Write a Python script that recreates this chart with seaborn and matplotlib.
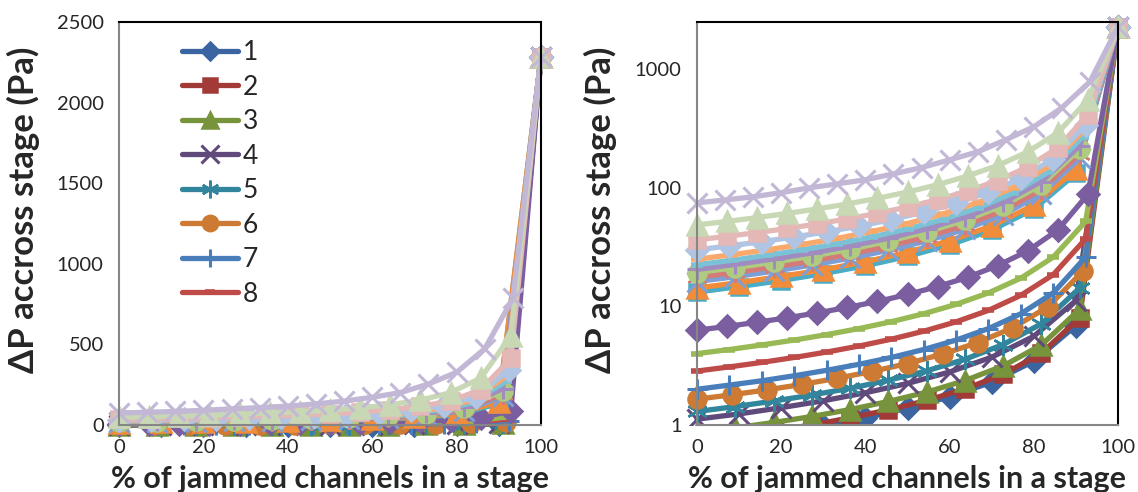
import numpy as np
import pandas as pd
import matplotlib
matplotlib.use('Agg')
import matplotlib.pyplot as plt
import seaborn as sns
from matplotlib.patches import Rectangle
from matplotlib.ticker import MultipleLocator, LogLocator, NullFormatter, FixedLocator

# pressure drop across a stage (Pa) vs % of jammed channels, one list per series
# last value of every series is the fully jammed point at 100 %
dp01 = [0.69, 0.767, 0.863, 0.986, 1.15, 1.38, 1.73, 2.3, 3.45, 6.9, 2280]
dp02 = [0.73, 0.803, 0.892, 1.0, 1.15, 1.34, 1.61, 2.01, 2.68, 4.02, 8.03, 2280]
dp03 = [0.86, 0.946, 1.05, 1.18, 1.35, 1.58, 1.89, 2.37, 3.15, 4.73, 9.46, 2280]
dp04 = [1.12, 1.24, 1.4, 1.6, 1.87, 2.24, 2.8, 3.73, 5.6, 11.2, 2280]
dp05 = [1.3, 1.43, 1.59, 1.79, 2.04, 2.38, 2.86, 3.58, 4.77, 7.15, 14.3, 2280]
dp06 = [1.65, 1.8, 1.98, 2.2, 2.48, 2.83, 3.3, 3.96, 4.95, 6.6, 9.9, 19.8, 2280]
dp07 = [2.0, 2.17, 2.36, 2.6, 2.89, 3.25, 3.71, 4.33, 5.2, 6.5, 8.67, 13.0, 26.0, 2280]
dp08 = [2.85, 3.09, 3.37, 3.71, 4.12, 4.63, 5.29, 6.18, 7.41, 9.26, 12.4, 18.5, 37.1, 2280]
dp09 = [4.0, 4.33, 4.73, 5.2, 5.78, 6.5, 7.43, 8.67, 10.4, 13.0, 17.3, 26.0, 52.0, 2280]
dp10 = [6.3, 6.78, 7.35, 8.02, 8.82, 9.8, 11.0, 12.6, 14.7, 17.6, 22.1, 29.4, 44.1, 88.2, 2280]
dp11 = [13.2, 14.7, 16.5, 18.9, 22.0, 26.4, 33.0, 44.0, 66.0, 132, 2280]
dp12 = [14.3, 15.9, 17.9, 20.4, 23.8, 28.6, 35.8, 47.7, 71.5, 143, 2280]
dp13 = [16.2, 17.8, 19.8, 22.3, 25.5, 29.7, 35.6, 44.6, 59.4, 89.1, 178, 2280]
dp14 = [17.6, 19.4, 21.5, 24.2, 27.7, 32.3, 38.7, 48.4, 64.5, 96.8, 194, 2280]
dp15 = [19.3, 21.2, 23.6, 26.5, 30.3, 35.4, 42.5, 53.1, 70.8, 106, 212, 2280]
dp16 = [20.5, 22.6, 25.1, 28.2, 32.2, 37.6, 45.1, 56.4, 75.2, 113, 226, 2280]
dp17 = [22.5, 24.5, 27.0, 30.0, 33.8, 38.6, 45.0, 54.0, 67.5, 90.0, 135, 270, 2280]
dp18 = [25.0, 27.3, 30.0, 33.3, 37.5, 42.9, 50.0, 60.0, 75.0, 100, 150, 300, 2280]
dp19 = [30.0, 32.4, 35.1, 38.5, 42.5, 47.5, 53.9, 62.4, 74.1, 91.5, 120, 176, 339, 2280]
dp20 = [36.4, 39.0, 41.9, 45.4, 49.6, 54.7, 60.9, 68.9, 79.3, 93.9, 115, 150, 218, 413, 2280]
dp21 = [48.7, 52.1, 56.1, 60.8, 66.4, 73.1, 81.5, 92.1, 106, 126, 154, 201, 291, 552, 2280]
dp22 = [74.7, 79, 84, 91, 100, 108, 117, 131, 148, 172, 201, 254, 327, 473, 785, 2280]

all_dp = [dp01, dp02, dp03, dp04, dp05, dp06, dp07, dp08, dp09, dp10, dp11,
          dp12, dp13, dp14, dp15, dp16, dp17, dp18, dp19, dp20, dp21, dp22]
names = [str(i) for i in range(1, 23)]

colors = ['#3B65A0', '#A23B38', '#77933C', '#604A7B', '#31859C', '#CC7A34',
          '#4A7EBB', '#BE4B48', '#98B954', '#7B5EA0', '#4BACC6', '#F08C3A',
          '#7F9FD4', '#D47B78', '#AFCB80', '#A08CBF', '#7CC2D6', '#F9A96B',
          '#B0C4E3', '#E4B8B7', '#C8D8B4', '#C2B8D6']
markers = ['D', 's', '^', 'x', (6, 2, 0), 'o', '+', '_', '_',
           'D', 's', '^', 'x', (6, 2, 0), 'o', '+', '_', '_',
           'D', 's', '^', 'x']
msize = {'D': 11, 's': 12, '^': 14, 'x': 15, 'o': 13, '+': 15, '_': 8}

rows = []
for name, vals in zip(names, all_dp):
    xs = np.linspace(0, 100, len(vals))
    for xv, yv in zip(xs, vals):
        rows.append((name, xv, yv))
df = pd.DataFrame(rows, columns=['series', 'jammed', 'dp'])

sns.set_style('white')
plt.rcParams['font.family'] = ['Lato', 'DejaVu Sans']

fig = plt.figure(figsize=(11.38, 4.92), dpi=100)
ax1 = fig.add_axes([119 / 1138, 67 / 492, 422 / 1138, 403 / 492])
ax2 = fig.add_axes([697 / 1138, 67 / 492, 421 / 1138, 403 / 492])


def draw(ax, clip):
    for name, c, m in zip(names, colors, markers):
        sub = df[df['series'] == name]
        key = m if isinstance(m, str) else '*'
        ms = msize.get(key, 15)
        mew = 2.2 if m in ('x', '+') else (4 if m == '_' else 1.8)
        sns.lineplot(data=sub, x='jammed', y='dp', ax=ax, color=c, marker=m,
                     markersize=ms, markeredgecolor=c, markeredgewidth=mew,
                     lw=3.8, label=name, clip_on=clip, legend=False)


draw(ax1, False)
draw(ax2, True)

# excel draws markers past the plot box, but hides points under the log floor
box = Rectangle((-0.05, 0), 1.1, 1.06, transform=ax2.transAxes,
                facecolor='none', edgecolor='none')
ax2.add_patch(box)
for ln in ax2.get_lines():
    ln.set_clip_path(box)

for ax in (ax1, ax2):
    ax.set_xlim(0, 100)
    ax.xaxis.set_major_locator(MultipleLocator(20))
    ax.tick_params(axis='x', direction='out', length=5, width=1.2,
                   color='#868686', labelsize=14.5, pad=5)
    ax.tick_params(axis='y', which='both', direction='in', length=4, width=1.2,
                   color='#868686', labelsize=14.5, pad=11)
    for s in ('top', 'right'):
        ax.spines[s].set_color('black')
        ax.spines[s].set_linewidth(1.5)
    for s in ('left', 'bottom'):
        ax.spines[s].set_color('#868686')
        ax.spines[s].set_linewidth(1.5)
    ax.set_xlabel('% of jammed channels in a stage', fontsize=22,
                  fontweight='bold')
    ax.set_ylabel('ΔP accross stage (Pa)', fontsize=25, fontweight='bold')
    ax.xaxis.set_label_coords(0.5, -0.1)

ax1.yaxis.set_label_coords(-0.187, 0.535)
ax2.yaxis.set_label_coords(-0.19, 0.535)

ax1.set_ylim(0, 2500)
ax1.yaxis.set_major_locator(MultipleLocator(500))
ax1.yaxis.set_minor_locator(MultipleLocator(100))

ax2.set_yscale('log')
ax2.set_ylim(1, 2500)
ax2.yaxis.set_major_locator(FixedLocator([1, 10, 100, 1000]))
ax2.set_yticklabels(['1', '10', '100', '1000'])
ax2.yaxis.set_minor_locator(LogLocator(base=10, subs=np.arange(2, 10)))
ax2.yaxis.set_minor_formatter(NullFormatter())

handles = ax1.get_lines()[:8]
ax1.legend(handles, names[:8], loc='upper left', bbox_to_anchor=(0.15, 0.955),
           frameon=False, fontsize=19, handlelength=2.1, handletextpad=0.2,
           labelspacing=0.36, borderaxespad=0, borderpad=0, markerscale=0.85)

fig.savefig('out.png', dpi=100)
